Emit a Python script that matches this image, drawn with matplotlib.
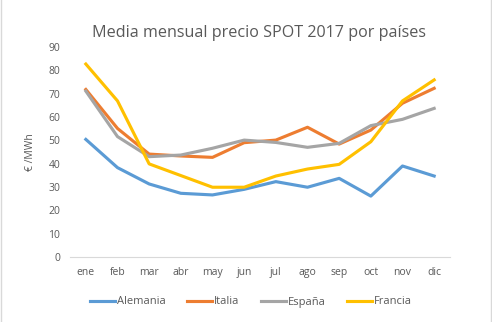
import matplotlib.pyplot as plt
from matplotlib.lines import Line2D

# monthly average SPOT price 2017 (EUR/MWh)
meses = ["ene", "feb", "mar", "abr", "may", "jun", "jul", "ago", "sep", "oct", "nov", "dic"]
alemania = [50.4, 38.3, 31.3, 27.3, 26.6, 29.0, 32.3, 29.9, 33.7, 26.1, 39.0, 34.7]
italia = [71.8, 55.1, 44.1, 43.3, 42.7, 49.0, 50.1, 55.6, 48.4, 54.4, 65.9, 72.3]
espana = [71.1, 51.6, 43.0, 43.7, 46.6, 50.1, 49.1, 47.0, 48.7, 56.3, 59.0, 63.7]
francia = [82.7, 66.9, 39.9, 34.9, 29.9, 29.9, 34.7, 37.7, 39.7, 49.4, 66.9, 75.9]

plt.rcParams['font.family'] = ['Open Sans', 'DejaVu Sans']

fig = plt.figure(figsize=(4.92, 3.22), dpi=100)
ax = fig.add_axes([70/492, 1-257/322, 380/492, 210/322])

x = range(len(meses))
ax.plot(x, alemania, color="#5b9bd5", lw=2.25, label="Alemania")
ax.plot(x, italia, color="#ed7d31", lw=2.25, label="Italia")
ax.plot(x, espana, color="#a5a5a5", lw=2.25, label="España")
ax.plot(x, francia, color="#ffc000", lw=2.25, label="Francia")

ax.set_xlim(-0.5, 11.5)
ax.set_ylim(0, 90)
ax.set_yticks(range(0, 91, 10))
ax.set_xticks(list(x))
ax.set_xticklabels(meses)
ax.tick_params(length=0, labelsize=7.5, colors="#595959", pad=7)
for s in ["top", "right", "left"]:
    ax.spines[s].set_visible(False)
ax.spines["bottom"].set_color("#d9d9d9")

ax.set_ylabel("€ /MWh", fontsize=7.5, color="#595959", labelpad=9)
fig.text(0.527, 1-33/322, "Media mensual precio SPOT 2017 por países",
         ha="center", va="center", fontsize=11.6, color="#595959")

ax.legend(loc="center", bbox_to_anchor=(0.51, 1-302/322), bbox_transform=fig.transFigure,
          ncol=4, frameon=False, fontsize=8, labelcolor="#595959",
          handlelength=2.3, handletextpad=0.15, columnspacing=1.9)

# light chart border
fig.add_artist(Line2D([1/492, 1/492], [0, 1], color="#d9d9d9", lw=1))
fig.add_artist(Line2D([490.5/492, 490.5/492], [0, 1], color="#d9d9d9", lw=1))

fig.savefig("out.png", dpi=100)
